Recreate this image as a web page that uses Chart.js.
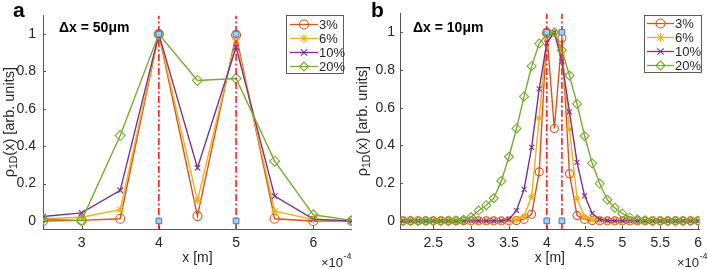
<!doctype html>
<html>
<head>
<meta charset="UTF-8">
<title>rho 1D profiles</title>
<script src="https://cdn.jsdelivr.net/npm/chart.js@4.4.0/dist/chart.umd.min.js"></script>
<style>
body { margin:0; background:#fff; }
#wrapA { position:absolute; left:0; top:0; width:358px; height:269px; }
#wrapB { position:absolute; left:350px; top:0; width:358px; height:269px; }
</style>
</head>
<body>
<div id="wrapA"><canvas id="chartA" width="358" height="269"></canvas></div>
<div id="wrapB"><canvas id="chartB" width="358" height="269"></canvas></div>
<script>
// x in units of 1e-4 m
var posA = [2.5, 3, 3.5, 4, 4.5, 5, 5.5, 6, 6.5];
var a3  = [0, 0.003, 0.012, 1, 0.026, 0.995, 0.012, 0, 0];
var a6  = [0.012, 0.02, 0.06, 1, 0.11, 0.97, 0.052, 0.007, 0];
var a10 = [0.024, 0.043, 0.164, 1, 0.284, 0.93, 0.133, 0.01, 0];
var a20 = [0.01, 0.003, 0.457, 1, 0.752, 0.762, 0.32, 0.033, 0.003];

var posB = [2.1, 2.2, 2.3, 2.4, 2.5, 2.6, 2.7, 2.8, 2.9, 3.0,
            3.1, 3.2, 3.3, 3.4, 3.5, 3.6, 3.7, 3.8, 3.9, 4.0,
            4.1, 4.2, 4.3, 4.4, 4.5, 4.6, 4.7, 4.8, 4.9, 5.0,
            5.1, 5.2, 5.3, 5.4, 5.5, 5.6, 5.7, 5.8, 5.9, 6.0];
var b3  = [0, 0, 0, 0, 0, 0, 0, 0, 0, 0,
           0, 0, 0, 0, 0, 0.002, 0.008, 0.035, 0.26, 1.0,
           0.49, 0.97, 0.25, 0.028, 0.008, 0.002, 0, 0, 0, 0,
           0, 0, 0, 0, 0, 0, 0, 0, 0, 0];
var b6  = [0, 0, 0, 0, 0, 0, 0, 0, 0, 0,
           0, 0, 0, 0, 0.002, 0.008, 0.025, 0.13, 0.545, 0.97,
           1.0, 0.88, 0.485, 0.12, 0.02, 0.006, 0.002, 0, 0, 0,
           0, 0, 0, 0, 0, 0, 0, 0, 0, 0];
var b10 = [0, 0, 0, 0, 0, 0, 0, 0, 0, 0,
           0, 0, 0, 0, 0.008, 0.055, 0.167, 0.39, 0.70, 0.943,
           1.0, 0.845, 0.578, 0.31, 0.133, 0.04, 0.008, 0.002, 0, 0,
           0, 0, 0, 0, 0, 0, 0, 0, 0, 0];
var b20 = [0, 0, 0, 0, 0, 0, 0, 0.002, 0.006, 0.02,
           0.055, 0.083, 0.12, 0.212, 0.34, 0.49, 0.66, 0.82, 0.94, 0.99,
           1.0, 0.905, 0.77, 0.62, 0.45, 0.305, 0.198, 0.112, 0.069, 0.038,
           0.017, 0.008, 0.003, 0, 0, 0, 0, 0, 0, 0];

var labels = ['3%', '6%', '10%', '20%'];
var peaksA = [4, 5];
var peaksB = [4, 4.2];

var xTicksA = [3, 4, 5, 6];
var xTicksB = [2.5, 3, 3.5, 4, 4.5, 5, 5.5, 6];
var yTicks = [0, 0.2, 0.4, 0.6, 0.8, 1];

var FONT = "'Liberation Sans', Arial, sans-serif";
var TXT = '#262626';
var AX = '#555555';
var colors = ['#D95319', '#EDB120', '#7E2F8E', '#77AC30'];
var styles = ['circle', 'star', 'crossRot', 'rectRot'];

function pts(xs, ys) {
  return xs.map(function (x, i) { return { x: x, y: ys[i] }; });
}

function buildData(xs, series, peaks, r) {
  var ds = [];
  var sizes = [r, r - 0.5, r - 0.5, r + 0.5];
  for (var i = 0; i < series.length; i++) {
    ds.push({
      label: labels[i],
      data: pts(xs, series[i]),
      borderColor: colors[i],
      backgroundColor: 'rgba(0,0,0,0)',
      pointBackgroundColor: 'rgba(0,0,0,0)',
      pointBorderColor: colors[i],
      pointStyle: styles[i],
      pointRadius: sizes[i],
      pointBorderWidth: 1.1,
      borderWidth: 1.4,
      order: 5 - i
    });
  }
  peaks.forEach(function (p) {
    ds.push({
      label: 'line',
      data: [{ x: p, y: -0.043 }, { x: p, y: 1.1 }],
      borderColor: '#ff1f1f',
      borderWidth: 1.6,
      borderDash: [7, 2.5, 2, 2.5],
      pointRadius: 0,
      order: 1
    });
  });
  var sq = [];
  peaks.forEach(function (p) { sq.push({ x: p, y: 0 }); sq.push({ x: p, y: 1 }); });
  ds.push({
    label: 'sq',
    data: sq,
    showLine: false,
    pointStyle: 'rect',
    pointRadius: 4,
    pointBorderWidth: 1,
    pointBorderColor: '#3a7cc4',
    pointBackgroundColor: '#a8cdee',
    order: 0
  });
  return ds;
}

var extras = {
  id: 'mlExtras',
  afterDraw: function (chart, args, o) {
    var ctx = chart.ctx;
    var xs = chart.scales.x, ys = chart.scales.y;
    ctx.save();
    // inward ticks
    ctx.strokeStyle = AX;
    ctx.lineWidth = 1;
    ctx.beginPath();
    xs.ticks.forEach(function (t) {
      var px = Math.round(xs.getPixelForValue(t.value)) + 0.5;
      ctx.moveTo(px, ys.bottom); ctx.lineTo(px, ys.bottom - 3);
    });
    ys.ticks.forEach(function (t) {
      var py = Math.round(ys.getPixelForValue(t.value)) + 0.5;
      ctx.moveTo(xs.left, py); ctx.lineTo(xs.left + 3, py);
    });
    ctx.stroke();

    // panel letter and spacing label
    ctx.fillStyle = '#000';
    ctx.textBaseline = 'alphabetic';
    ctx.textAlign = 'left';
    ctx.font = 'bold 21px ' + FONT;
    ctx.fillText(o.letter, o.letterX, 17);
    ctx.font = 'bold 14px ' + FONT;
    ctx.fillText(o.dx, o.dxX, 32);

    // y title with subscript
    ctx.fillStyle = TXT;
    ctx.translate(o.yTitleX, (ys.top + ys.bottom) / 2);
    ctx.rotate(-Math.PI / 2);
    ctx.font = '14.5px ' + FONT;
    var w1 = ctx.measureText('\u03c1').width;
    var w3 = ctx.measureText('(x) [arb. units]').width;
    ctx.font = '10.5px ' + FONT;
    var w2 = ctx.measureText('1D').width;
    var x0 = -(w1 + w2 + w3) / 2;
    ctx.textBaseline = 'middle';
    ctx.font = '14.5px ' + FONT;
    ctx.fillText('\u03c1', x0, 0);
    ctx.font = '10.5px ' + FONT;
    ctx.fillText('1D', x0 + w1, 4);
    ctx.font = '14.5px ' + FONT;
    ctx.fillText('(x) [arb. units]', x0 + w1 + w2, 0);
    ctx.setTransform(1, 0, 0, 1, 0, 0);

    // exponent label
    ctx.textBaseline = 'alphabetic';
    ctx.font = '13px ' + FONT;
    ctx.fillText('\u00d710', o.expX, 267);
    var we = ctx.measureText('\u00d710').width;
    ctx.font = '9px ' + FONT;
    ctx.fillText('-4', o.expX + we + 0.5, 259);

    // legend
    var L = o.legend;
    ctx.fillStyle = '#fff';
    ctx.fillRect(L.x, L.y, L.w, L.h);
    ctx.strokeStyle = '#333';
    ctx.lineWidth = 0.8;
    ctx.strokeRect(L.x + 0.5, L.y + 0.5, L.w, L.h);
    ctx.font = '13px ' + FONT;
    ctx.textBaseline = 'middle';
    for (var i = 0; i < 4; i++) {
      var d = chart.data.datasets[i];
      var ry = L.y + L.row0 + i * L.step;
      ctx.strokeStyle = d.borderColor;
      ctx.lineWidth = 1.3;
      ctx.beginPath();
      ctx.moveTo(L.l0, ry); ctx.lineTo(L.l1, ry);
      ctx.stroke();
      ctx.fillStyle = 'rgba(0,0,0,0)';
      ctx.lineWidth = 1.1;
      Chart.helpers.drawPoint(ctx, { pointStyle: d.pointStyle, radius: 4.5, borderWidth: 1.1, rotation: 0 }, (L.l0 + L.l1) / 2, ry);
      ctx.fillStyle = TXT;
      ctx.fillText(d.label, L.tx, ry + 0.5);
    }
    ctx.restore();
  }
};

function makeChart(id, xs, series, peaks, xmin, xmax, xTicks, cfg) {
  return new Chart(document.getElementById(id), {
    type: 'line',
    data: { datasets: buildData(xs, series, peaks, cfg.r) },
    options: {
      responsive: false,
      animation: false,
      layout: { padding: { top: 8, right: cfg.padR, left: 0, bottom: 0 } },
      plugins: {
        legend: { display: false },
        tooltip: { enabled: false },
        mlExtras: cfg.extras
      },
      scales: {
        x: {
          type: 'linear',
          min: xmin, max: xmax,
          afterBuildTicks: function (s) { s.ticks = xTicks.map(function (v) { return { value: v }; }); },
          afterFit: function (s) { s.height = 40; },
          grid: { display: false, drawTicks: false },
          border: { display: true, color: AX, width: 1 },
          ticks: {
            autoSkip: false, maxRotation: 0, padding: 6,
            color: TXT, font: { family: FONT, size: 14 },
            callback: function (v) { return String(v); }
          },
          title: {
            display: true, text: 'x [m]', color: TXT,
            font: { family: FONT, size: 14 },
            padding: { top: 0, bottom: 2 }
          }
        },
        y: {
          type: 'linear',
          min: -0.043, max: 1.1,
          afterBuildTicks: function (s) { s.ticks = yTicks.map(function (v) { return { value: v }; }); },
          afterFit: function (s) { s.width = cfg.yw; },
          grid: { display: false, drawTicks: false },
          border: { display: true, color: AX, width: 1 },
          ticks: {
            padding: cfg.yPad,
            color: TXT, font: { family: FONT, size: 14 },
            callback: function (v) { return String(v); }
          }
        }
      }
    },
    plugins: [extras]
  });
}

makeChart('chartA', posA, [a3, a6, a10, a20], peaksA, 2.5, 6.5, xTicksA, {
  r: 4.5, padR: 5, yw: 43, yPad: 7,
  extras: {
    letter: 'a', letterX: 13, dx: '\u0394x = 50\u03bcm', dxX: 59, yTitleX: 10, expX: 321,
    legend: { x: 286, y: 15, w: 57, h: 58, row0: 9.5, step: 14, l0: 290, l1: 318, tx: 319 }
  }
});

makeChart('chartB', posB, [b3, b6, b10, b20], peaksB, 2.06, 6.02, xTicksB, {
  r: 4, padR: 3, yw: 50, yPad: 5,
  extras: {
    letter: 'b', letterX: 21, dx: '\u0394x = 10\u03bcm', dxX: 63, yTitleX: 13, expX: 327,
    legend: { x: 294, y: 15, w: 57, h: 57, row0: 8.5, step: 14, l0: 297, l1: 324, tx: 325 }
  }
});
</script>
</body>
</html>
